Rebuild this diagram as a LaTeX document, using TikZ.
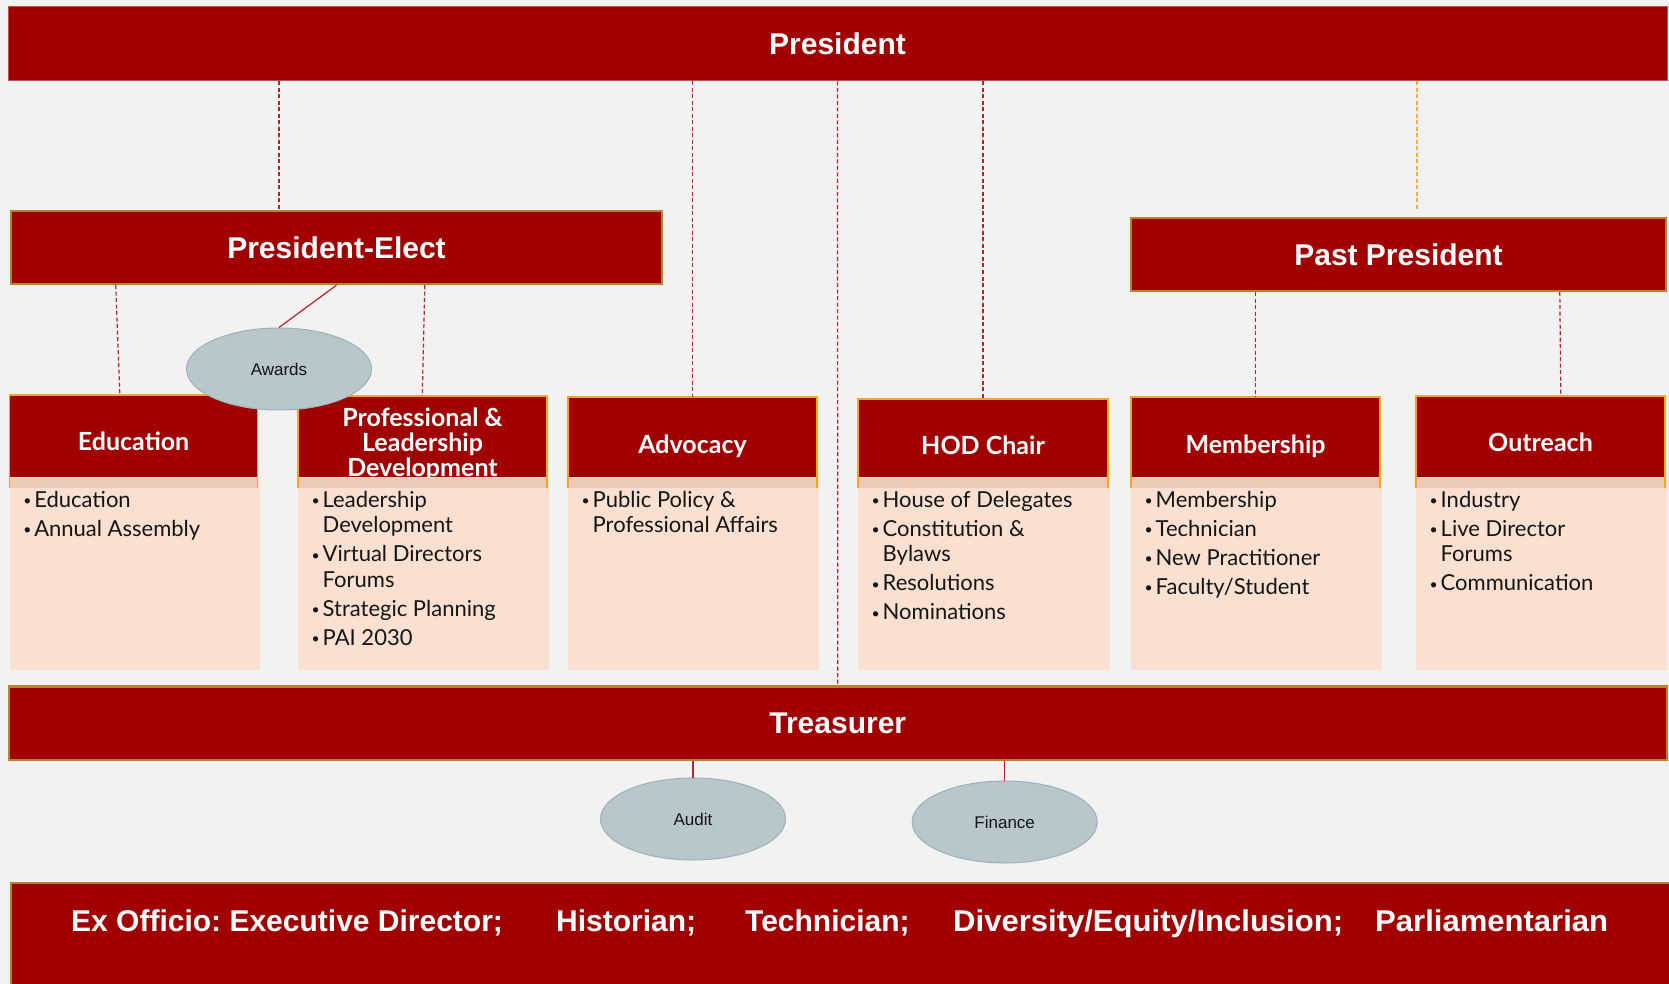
\documentclass[tikz,border=0pt]{standalone}
\usepackage{fontspec}
\usetikzlibrary{shapes.geometric,calc}
\newfontfamily\gillf{Lato}
\newfontfamily\arialf{Liberation Sans}
\definecolor{bgc}{HTML}{F2F2F2}
\definecolor{dred}{HTML}{A00000}
\definecolor{lred}{HTML}{B4232A}
\definecolor{pborder}{HTML}{C0504D}
\definecolor{peach}{HTML}{FAE0D0}
\definecolor{bandc}{HTML}{EFC9B7}
\definecolor{orangeb}{HTML}{F5A623}
\definecolor{goldb}{HTML}{BA8424}
\definecolor{ellf}{HTML}{B8C7CC}
\definecolor{elld}{HTML}{9DB1B7}
\definecolor{odash}{HTML}{F2B04C}
\definecolor{txtc}{HTML}{151515}
\newcommand{\itm}[1]{\makebox[11pt][l]{\raisebox{1.5pt}{\fontsize{14}{14}\selectfont\textbullet}}#1}
\newcommand{\cont}{\hspace*{11pt}}
% #1 name, #2 x1, #3 x2, #4 top, #5 header, #6 body, #7 header text shift
\newcommand{\committeebox}[7]{%
  \fill[peach] (#2,477) rectangle ({#3+2},670);
  \node[chead, minimum width={#3-#2}, minimum height={477-#4}] (#1) at ({(#2+#3)/2},{(#4+477)/2}) {};
  \node[cheadtxt, yshift=#7] at (#1.center) {#5};
  \fill[bandc] (#2,478) rectangle (#3,488);
  \draw[orangeb, line width=1.6pt] (#2,488) -- (#2,#4) -- (#3,#4) -- (#3,488);
  \node[cbody, anchor=north west] at ({#2+13.5},491) {#6};
}
\begin{document}
\frenchspacing
\begin{tikzpicture}[x=1pt,y=-1pt,
  bigbox/.style={fill=dred, draw=goldb, line width=2.4pt, text=white,
    font=\arialf\bfseries\fontsize{30}{36}\selectfont, inner sep=0pt},
  chead/.style={fill=dred, draw=none, inner sep=0pt},
  cheadtxt/.style={text=white, font=\gillf\bfseries\fontsize{25}{25}\selectfont, align=center, inner sep=0pt},
  cbody/.style={text=txtc, font=\gillf\fontsize{22}{25.5}\selectfont, align=left, inner sep=0pt},
  oval/.style={ellipse, fill=ellf, draw=elld, line width=1pt, inner sep=0pt,
    minimum width=185, minimum height=82, font=\arialf\fontsize{17}{20}\selectfont, text=txtc},
  dline/.style={draw=lred, dash pattern=on 4pt off 2.5pt, line width=1.2pt},
  sline/.style={draw=lred, line width=1.2pt},
  oline/.style={draw=odash, dash pattern=on 4pt off 2.5pt, line width=1.2pt}
]
\useasboundingbox (0,0) rectangle (1669,984);
\fill[bgc] (0,0) rectangle (1669,984);

% top level boxes
\node[bigbox, draw=pborder, line width=1pt, minimum width=1659, minimum height=74] (pres) at (837.5,44) {President};
\node[bigbox, minimum width=651, minimum height=73] (pelect) at (336.5,247.5) {President-Elect};
\node[bigbox, minimum width=535, minimum height=73] (ppres) at (1398.5,254.5) {Past President};
\node[bigbox, minimum width=1658, minimum height=73.5] (treas) at (837.75,723.25) {Treasurer};

% committees
\committeebox{edu}{9.6}{257.6}{395}{Education}{\itm{Education}\\[3.5pt]\itm{Annual Assembly}}{-5pt}
\committeebox{prof}{298}{547}{396}{Professional \&\\Leadership\\Development}{\itm{Leadership}\\\cont Development\\[3.5pt]\itm{Virtual Directors}\\\cont Forums\\[3.5pt]\itm{Strategic Planning}\\[3.5pt]\itm{PAI 2030}}{-7.5pt}
\committeebox{adv}{568}{817}{397}{Advocacy}{\itm{Public Policy \&}\\\cont Professional Affairs}{-9pt}
\committeebox{hod}{858}{1108}{399}{HOD Chair}{\itm{House of Delegates}\\[3.5pt]\itm{Constitution \&}\\\cont Bylaws\\[3.5pt]\itm{Resolutions}\\[3.5pt]\itm{Nominations}}{-7pt}
\committeebox{mem}{1131}{1380}{397}{Membership}{\itm{Membership}\\[3.5pt]\itm{Technician}\\[3.5pt]\itm{New Practitioner}\\[3.5pt]\itm{Faculty/Student}}{-9pt}
\committeebox{out}{1416}{1665}{396}{Outreach}{\itm{Industry}\\[3.5pt]\itm{Live Director}\\\cont Forums\\[3.5pt]\itm{Communication}}{-6pt}

% ex officio
\node[fill=dred, inner sep=0pt, minimum width=1660, minimum height=101] (exo) at (841,933.5) {};
\draw[goldb, line width=2.4pt] (exo.south west) -- (exo.north west) -- (exo.north east);
\node[anchor=west, text=white, inner sep=0pt, font=\arialf\bfseries\fontsize{30}{36}\selectfont] (exotxt) at (71,924)
  {\makebox[485pt][l]{Ex Officio: Executive Director;}\makebox[189pt][l]{Historian;}\makebox[208pt][l]{Technician;}\makebox[422pt][l]{\scalebox{1.035}[1]{Diversity/Equity/Inclusion;}}\scalebox{1.035}[1]{Parliamentarian}};

% ovals
\node[oval] (awd) at (279,369) {Awards};
\node[oval] (aud) at (693,819) {Audit};
\node[oval] (fin) at (1004.7,822) {Finance};

% connectors
\coordinate (xpe) at (279,0);
\coordinate (xpp) at (1417,210);
\draw[dline] (pres.south -| xpe) -- (pelect.north -| xpe);
\draw[dline] (pres.south -| adv.north) -- (adv.north);
\draw[dline] (pres.south) -- (treas.north);
\draw[dline] (pres.south -| hod.north) -- (hod.north);
\draw[oline] (pres.south -| xpp) -- (xpp);
\draw[dline] ($(pelect.south west)+(106,0)$) -- ($(edu.north west)+(110.4,0)$);
\draw[dline] ($(pelect.south west)+(415,0)$) -- ($(prof.north west)+(124.5,0)$);
\draw[sline] (pelect.south) -- (awd.north);
\draw[dline] (ppres.south -| mem.north) -- (mem.north);
\draw[dline] ($(ppres.south west)+(430,0)$) -- ($(out.north west)+(145,0)$);
\draw[sline] (treas.south -| aud.north) -- (aud.north);
\draw[sline] (treas.south -| fin.north) -- (fin.north);
\end{tikzpicture}
\end{document}
